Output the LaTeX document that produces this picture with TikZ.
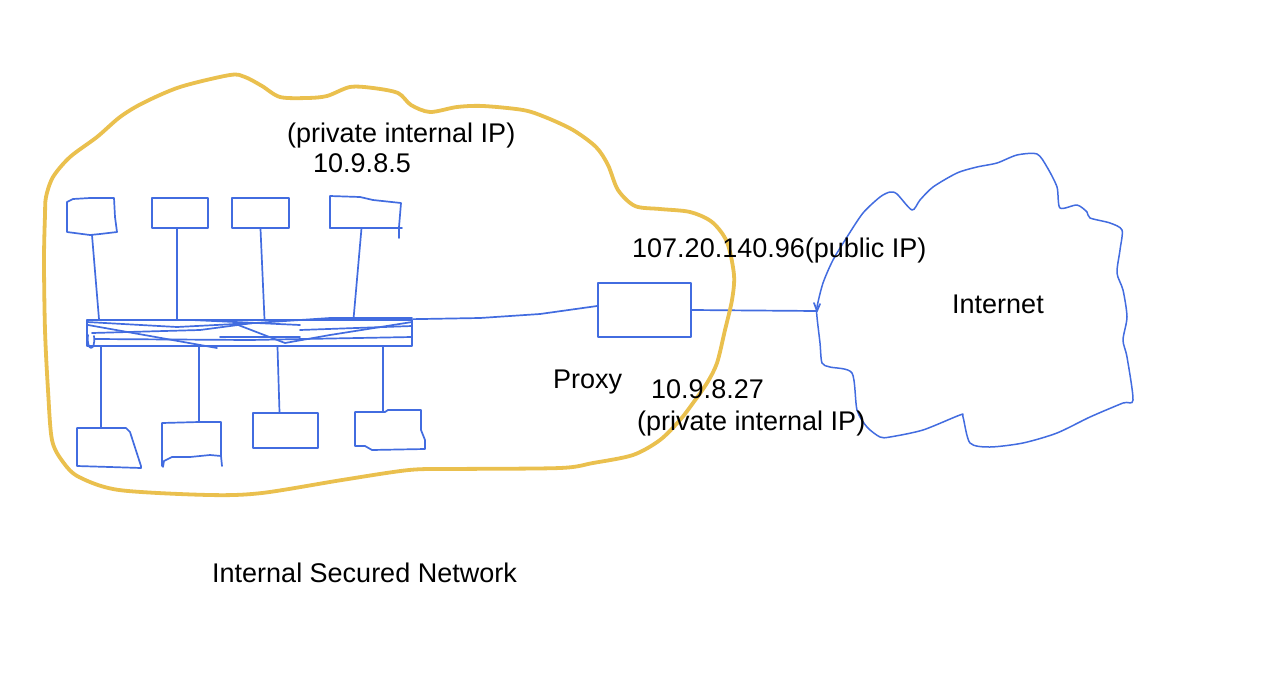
\documentclass[tikz,border=0pt]{standalone}
\usepackage{fontspec}
\setmainfont{Liberation Sans}
\definecolor{sketchblue}{RGB}{66,108,224}
\definecolor{sketchyellow}{RGB}{234,192,78}
\begin{document}
\begin{tikzpicture}[x=1pt,y=-1pt,
  blueline/.style={draw=sketchblue, line width=1.7pt, line join=round, line cap=round},
  boxstyle/.style={blueline, rectangle, inner sep=0pt},
  anchorbox/.style={rectangle, inner sep=0pt},
  lbl/.style={font=\fontsize{27}{32}\selectfont, inner sep=0pt, anchor=base west, text=black},
  yellowline/.style={draw=sketchyellow, line width=3.8pt, line join=round}]
\useasboundingbox (0,0) rectangle (1286,686);
\fill[white] (0,0) rectangle (1286,686);

% top hosts
\node[anchorbox, minimum width=50pt, minimum height=37pt] (b1) at (92,216.5) {};
\draw[blueline] (67,202) -- (73,199) -- (90,198) -- (114,198) -- (115,217) -- (117,232)
  -- (100,234) -- (90,235) -- (67,232) -- cycle;
\node[boxstyle, minimum width=56pt, minimum height=30pt] (b2) at (180,213) {};
\node[boxstyle, minimum width=57pt, minimum height=30pt] (b3) at (260.5,213) {};
\node[anchorbox, minimum width=71pt, minimum height=32pt] (b4) at (365.5,212) {};
\draw[blueline] (330,228) -- (330,196) -- (360,197) -- (373,200) -- (401,203) -- (399,227) -- (399,238);
\draw[blueline] (330,228) -- (402,228);
% bottom hosts
\node[anchorbox, minimum width=64pt, minimum height=40pt] (b5) at (109,447.5) {};
\draw[blueline] (77,428) -- (126,428) -- (130,432) -- (141,466) -- (141,468) -- (110,467) -- (77,466) -- cycle;
\node[anchorbox, minimum width=59pt, minimum height=45pt] (b6) at (192,444.5) {};
\draw[blueline] (162,466) -- (162,423) -- (199,422) -- (221,422) -- (221,456) -- (210,455) -- (190,457)
  -- (172,457) -- (164,461) -- (163,467);
\draw[blueline] (221,456) -- (222,466);
\node[boxstyle, minimum width=65pt, minimum height=35pt] (b7) at (285.5,430.5) {};
\node[anchorbox, minimum width=70pt, minimum height=38pt] (b8) at (390,431) {};
\draw[blueline] (355,412) -- (385,412) -- (388,410) -- (421,410) -- (421,430) -- (425,440) -- (425,449)
  -- (372,450) -- (365,446) -- (355,446) -- cycle;
% bus
\node[boxstyle, minimum width=325pt, minimum height=26pt] (bus) at (249.5,333) {};
% proxy
\node[boxstyle, minimum width=93pt, minimum height=54pt] (proxy) at (644.5,310) {};
\coordinate (net) at (817,311);

% bus scribbles
\draw[blueline] (87,322) -- (177,327) -- (255,323) -- (330,318) -- (412,318);
\draw[blueline] (92,333) -- (200,330) -- (253,323);
\draw[blueline] (88,325) -- (150,336) -- (217,348);
\draw[blueline] (192,320) -- (300,325);
\draw[blueline] (220,337) -- (300,337);
\draw[blueline] (233,323) -- (285,343) -- (330,335) -- (412,322);
\draw[blueline] (300,330) -- (412,326);
\draw[blueline] (95,339) -- (250,340) -- (412,337);
\draw[blueline] (88,335) .. controls (86,352) and (96,352) .. (94,336);

% connectors top
\draw[blueline] (b1.south) -- ([xshift=7pt]b1.south |- bus.north);
\draw[blueline] ([xshift=-3pt]b2.south) -- ([xshift=-3pt]b2.south |- bus.north);
\draw[blueline] (b3.south) -- ([xshift=4pt]b3.south |- bus.north);
\draw[blueline] ([xshift=-4pt]b4.south) -- ([xshift=-12pt]b4.south |- bus.north);
% connectors bottom
\draw[blueline] ([xshift=-8pt]b5.north) -- ([xshift=-8pt]b5.north |- bus.south);
\draw[blueline] ([xshift=7pt]b6.north) -- ([xshift=7pt]b6.north |- bus.south);
\draw[blueline] ([xshift=-6pt]b7.north) -- ([xshift=-8pt]b7.north |- bus.south);
\draw[blueline] ([xshift=-7pt]b8.north) -- ([xshift=-7pt]b8.north |- bus.south);
% bus to proxy to internet
\draw[blueline] (bus.north east) -- (480,318) -- (540,314) -- ([yshift=4pt]proxy.west);
\draw[blueline] (proxy.east) -- (net);
\draw[blueline] ([shift={(-3,-8)}]net) -- (net) -- ([shift={(3,-7)}]net);

% internet cloud
\draw[blueline, line width=1.5pt] plot[smooth cycle, tension=0.45] coordinates {
 (817,307) (823,283) (833,260) (847,237) (863,213) (880,197) (890,192) (897,194)
 (912,210) (920,200) (933,187) (957,173) (977,167) (997,163) (1017,155) (1037,154)
 (1047,167) (1057,187) (1060,208) (1077,205) (1087,212) (1090,218) (1110,223) (1122,230)
 (1120,250) (1117,273) (1123,290) (1127,317) (1123,340) (1127,357) (1133,400) (1123,403)
 (1090,417) (1057,433) (1023,443) (990,447) (970,443) (963,417) (960,415) (923,430)
 (890,437) (880,437) (867,427) (857,410) (852,373) (830,367) (822,363) (820,343) (817,317)};

% secured network outline
\draw[yellowline] plot[smooth cycle, tension=0.5] coordinates {
 (45,215) (44,260) (45,330) (48,390) (52,440) (63,462) (79,477) (119,490) (209,495)
 (262,493) (342,480) (409,470) (454,469) (560,468) (593,463) (633,455) (660,440)
 (680,420) (693,403) (707,383) (717,363) (725,330) (732,300) (734,275) (727,242) (712,222) (690,212)
 (660,209) (635,206) (618,190) (608,165) (596,147) (573,130) (545,117) (523,110)
 (483,106) (457,107) (430,112) (411,105) (398,93) (373,88) (350,87) (327,96)
 (307,98) (280,97) (262,86) (245,77) (230,75) (180,87) (143,103) (120,117)
 (97,137) (70,157) (53,177) (46,197)};

% labels
\node[lbl] (t1) at (287,142) {(private internal IP)};
\node[lbl] (t2) at (313,172) {10.9.8.5};
\node[lbl] (t3) at (632,257) {107.20.140.96(public IP)};
\node[lbl] (t4) at (952,313) {Internet};
\node[lbl] (t5) at (553,388) {Proxy};
\node[lbl] (t6) at (651,398) {10.9.8.27};
\node[lbl] (t7) at (637,430) {(private internal IP)};
\node[lbl] (t8) at (212,582) {Internal Secured Network};
\end{tikzpicture}
\end{document}
